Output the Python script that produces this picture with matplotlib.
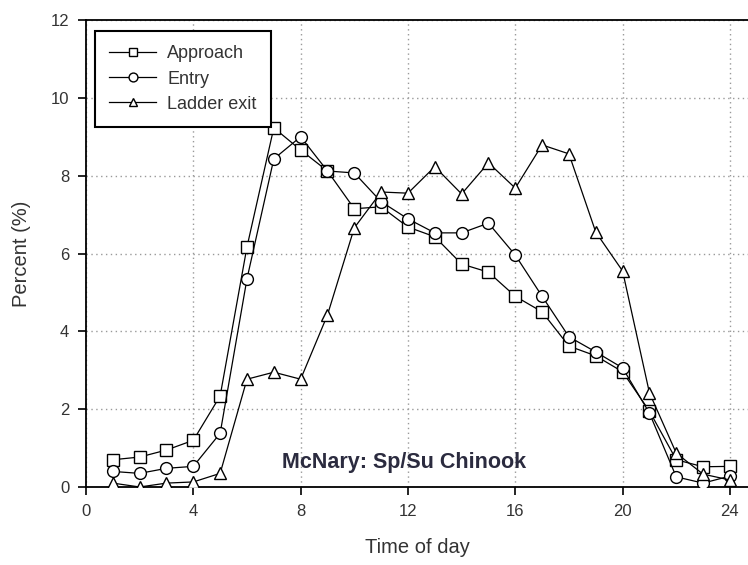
import matplotlib
matplotlib.use("Agg")
import matplotlib.pyplot as plt

hours = list(range(1, 25))
approach = [0.70, 0.77, 0.95, 1.20, 2.34, 6.17, 9.23, 8.66, 8.12, 7.15, 7.20, 6.68,
            6.43, 5.73, 5.52, 4.90, 4.50, 3.62, 3.37, 2.96, 1.95, 0.70, 0.52, 0.53]
entry = [0.40, 0.35, 0.48, 0.53, 1.38, 5.35, 8.43, 9.00, 8.12, 8.07, 7.33, 6.89,
         6.53, 6.53, 6.78, 5.96, 4.90, 3.86, 3.47, 3.06, 1.90, 0.26, 0.10, 0.28]
ladder = [0.10, 0.00, 0.10, 0.13, 0.35, 2.77, 2.95, 2.77, 4.42, 6.66, 7.58, 7.55,
          8.23, 7.53, 8.33, 7.68, 8.79, 8.56, 6.55, 5.55, 2.42, 0.87, 0.33, 0.18]
series_names = ["Approach", "Entry", "Ladder exit"]
xticks = [0, 4, 8, 12, 16, 20, 24]
yticks = [0, 2, 4, 6, 8, 10, 12]

plt.rcParams['font.family'] = ['Liberation Sans', 'DejaVu Sans']

fig = plt.figure(figsize=(7.48, 5.65), dpi=100)
ax = fig.add_axes([86/748, 1-487/565, 1-86/748, (487-20)/565])

mk = dict(color='black', linewidth=0.9, markersize=8.5, markerfacecolor='white',
          markeredgecolor='black', markeredgewidth=1.0)
ax.plot(hours, approach, marker='s', label=series_names[0], zorder=3, **mk)
ax.plot(hours, entry, marker='o', label=series_names[1], zorder=3, **mk)
ax.plot(hours, ladder, marker='^', label=series_names[2], zorder=3, **mk)

ax.set_xlim(0, (748-86)/26.83)
ax.set_ylim(0, 12)
ax.set_xticks(xticks)
ax.set_yticks(yticks)
ax.tick_params(direction='out', length=6, width=1.2, labelsize=12, colors='black',
               labelcolor='#333333', pad=6)
ax.grid(True, linestyle=(0, (1, 2.5)), color='#999999', linewidth=1.0)
ax.set_axisbelow(True)
for s in ['left', 'bottom', 'top']:
    ax.spines[s].set_linewidth(1.3)
ax.spines['right'].set_visible(False)

ax.set_xlabel("Time of day", fontsize=14.5, color='#333333', labelpad=14)
ax.set_ylabel("Percent (%)", fontsize=14.5, color='#333333', labelpad=14)

leg = ax.legend(loc='upper left', bbox_to_anchor=(9/662, (487-31)/467),
                fancybox=False, framealpha=1, edgecolor='black', fontsize=13,
                handlelength=2.6, borderpad=0.8, labelspacing=0.45, handletextpad=0.6,
                borderaxespad=0, markerscale=0.75)
leg.get_frame().set_linewidth(1.5)
for t in leg.get_texts():
    t.set_color('#333333')

ax.text(7.3, 0.64, "McNary: Sp/Su Chinook", fontsize=15.5, fontweight='bold',
        color='#2b2b3f', ha='left', va='center')

fig.savefig("out.png", dpi=100)
